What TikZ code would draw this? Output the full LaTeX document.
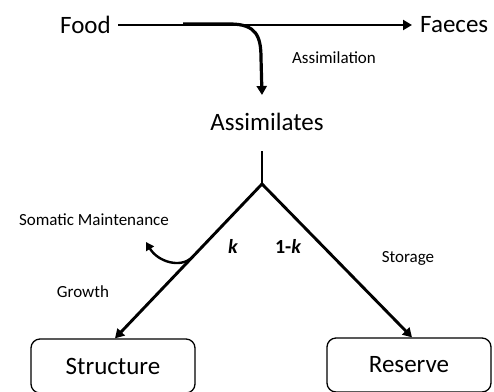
\documentclass[tikz,border=0pt]{standalone}
\usepackage{fontspec}
\setmainfont{Carlito}
\usetikzlibrary{arrows.meta,calc}
\begin{document}
\begin{tikzpicture}[x=1pt,y=-1pt,
  big/.style={font=\fontsize{25}{30}\selectfont, inner sep=0pt},
  small/.style={font=\fontsize{17}{20}\selectfont, inner sep=0pt},
  klabel/.style={font=\fontsize{20}{24}\selectfont\bfseries, inner sep=0pt},
  flow/.style={line width=2.9pt, -{Triangle[length=9pt,width=10pt]}},
  plain/.style={line width=2.9pt},
  box/.style={draw, line width=1.3pt, rounded corners=9pt, minimum width=164pt, minimum height=54pt, inner sep=0pt, font=\fontsize{25}{30}\selectfont}]
\useasboundingbox (0,0) rectangle (494,391);
\node[big, anchor=east] (food) at (111,25) {Food};
\node[big, anchor=west] (faeces) at (420,25) {Faeces};
\draw[flow] ([xshift=7pt]food.east) -- ([xshift=-8pt]faeces.west);
\coordinate (split) at (183,24);
\coordinate (assimtip) at (262,95);
\draw[flow, line width=3.2pt] (split) -- (230,24) .. controls (256,24) and (261,36) .. (261,58) -- (assimtip);
\node[small] (assimilation) at (334,58) {Assimilation};
\node[big] (assim) at (267,122) {Assimilates};
\coordinate (stem) at (262,151);
\coordinate (fork) at (262,184);
\node[box] (structure) at (113,366) {Structure};
\node[box] (reserve) at (409,365) {Reserve};
\draw[plain] (stem) -- (fork);
\draw[flow] (fork) -- ([xshift=2pt]structure.north);
\draw[flow] (fork) -- ([xshift=3pt]reserve.north);
\coordinate (sm) at ($(fork)!0.48!([xshift=2pt]structure.north)$);
\coordinate (smtip) at (146,242);
\draw[line width=2.4pt, -{Triangle[length=8pt,width=9pt]}] (sm) .. controls (180,268) and (158,262) .. (smtip);
\node[small] (somatic) at (94,220) {Somatic Maintenance};
\node[klabel] (k) at (233,246) {\itshape k};
\node[klabel] (onek) at (288,246) {1-\itshape k};
\node[small] (storage) at (408,258) {Storage};
\node[small] (growth) at (83,292) {Growth};
\end{tikzpicture}
\end{document}
